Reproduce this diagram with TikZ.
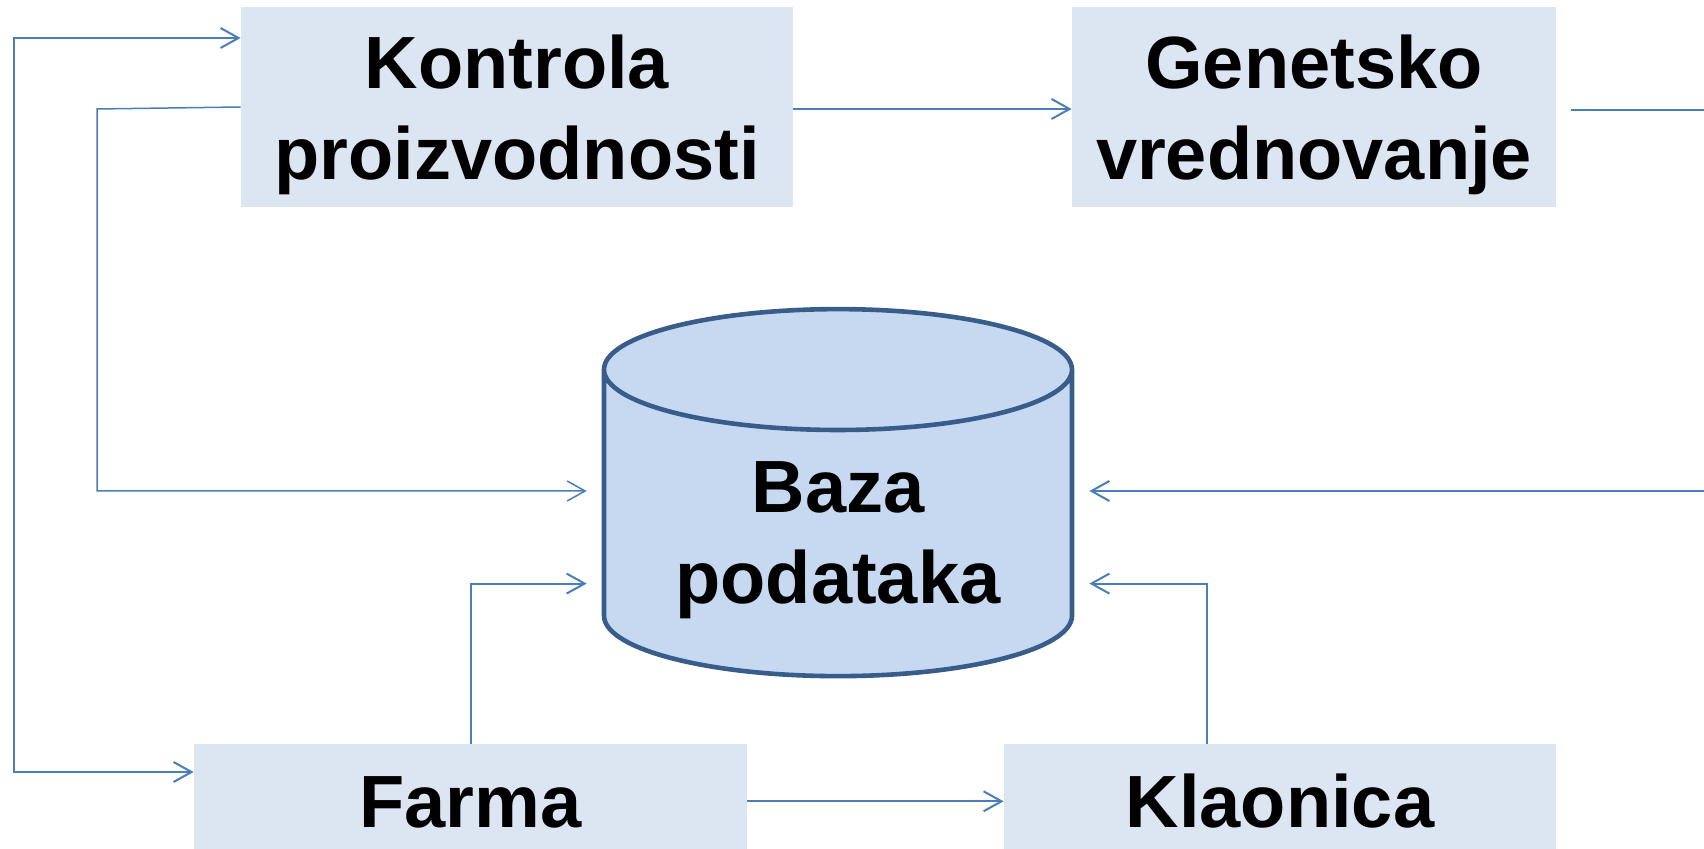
\documentclass[tikz,border=0pt]{standalone}
\usepackage{fontspec}
\setmainfont{Liberation Sans}
\usetikzlibrary{shapes.geometric,arrows.meta}
\definecolor{boxfill}{HTML}{DCE6F2}
\definecolor{dbfill}{HTML}{C6D9F1}
\definecolor{dbline}{HTML}{385D8A}
\definecolor{linkcol}{HTML}{4A7EBB}

\begin{document}
\begin{tikzpicture}[x=0.5pt,y=-0.5pt,>={Straight Barb[length=9pt,width=10pt]}]
    \tikzstyle{box}=[fill=boxfill,inner sep=0pt,align=center,font=\fontsize{37}{45.5}\selectfont\bfseries]
    \tikzstyle{link}=[draw=linkcol,line width=1pt,->]
    \useasboundingbox (0,0) rectangle (1704,849);
    \node[box,minimum width=276pt,minimum height=100pt,text height=73pt,text depth=0pt] (kontrola) at (517,107) {Kontrola\\proizvodnosti};
    \node[box,minimum width=242pt,minimum height=100pt,text height=73pt,text depth=0pt] (genetsko) at (1314,107) {Genetsko\\vrednovanje};
    \node[box,minimum width=276.5pt,minimum height=57.3pt,text height=26pt,text depth=0pt] (farma) at (470.5,801.3) {Farma};
    \node[box,minimum width=276pt,minimum height=57.3pt,text height=26pt,text depth=0pt] (klaonica) at (1280,801.3) {Klaonica};
    \node[box,cylinder,shape border rotate=90,aspect=0.372,fill=dbfill,draw=dbline,line width=2.3pt,minimum width=234pt,minimum height=183.5pt,text height=79.3pt,text depth=0pt] (baza) at (838,524) {Baza\\podataka};
    \draw[link] ([yshift=-1pt]kontrola.east) -- ([yshift=-1pt]genetsko.west);
    \draw[link] (farma) -- (klaonica);
    \draw[link,<->] ([yshift=34.5pt]kontrola.west) -| (14,772) -- ([yshift=14.65pt]farma.west);
    \draw[link,line width=0.75pt] (kontrola.west) -- (97,109) |- ([xshift=-7.5pt,yshift=16.5pt]baza.west);
    \draw[link] (farma.north) |- ([xshift=-7.5pt,yshift=-29.8pt]baza.west);
    \draw[link] ([xshift=-36.5pt]klaonica.north) |- ([xshift=7.5pt,yshift=-29.8pt]baza.east);
    \draw[link] ([xshift=7.5pt,yshift=-1.5pt]genetsko.east) -- (1730,110) |- ([xshift=7.5pt,yshift=16.5pt]baza.east);
\end{tikzpicture}
\end{document}
